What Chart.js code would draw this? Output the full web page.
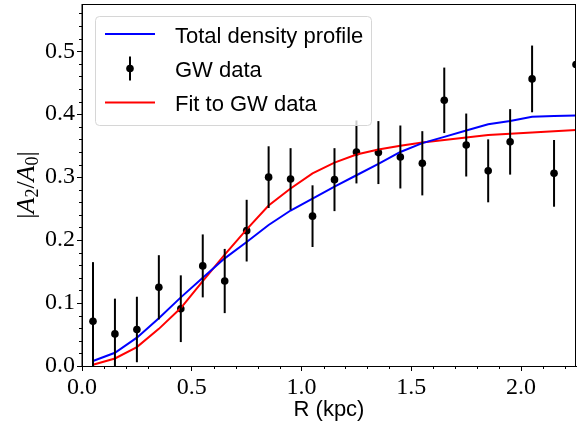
<!DOCTYPE html>
<html>
<head>
<meta charset="utf-8">
<script src="https://cdn.jsdelivr.net/npm/chart.js@4.4.1/dist/chart.umd.min.js"></script>
<style>
    html, body { margin: 0; padding: 0; background: #ffffff; }
    #wrap { width: 580px; height: 425px; }
</style>
</head>
<body>
<div id="wrap"><canvas id="canvasA2" width="580" height="425"></canvas></div>
<script>
// radius of each bin (kpc)
let radius = [0.05, 0.15, 0.25, 0.35, 0.45, 0.55, 0.65, 0.75, 0.85, 0.95, 1.05, 1.15,
              1.25, 1.35, 1.45, 1.55, 1.65, 1.75, 1.85, 1.95, 2.05, 2.15, 2.25];

let gwData = [0.071, 0.051, 0.058, 0.125, 0.091, 0.159, 0.135, 0.215, 0.300, 0.297, 0.238, 0.296,
              0.340, 0.339, 0.332, 0.322, 0.422, 0.351, 0.310, 0.356, 0.456, 0.306, 0.479];
let gwError = [0.094, 0.056, 0.052, 0.051, 0.053, 0.050, 0.051, 0.049, 0.049, 0.049, 0.049, 0.050,
               0.050, 0.050, 0.050, 0.051, 0.052, 0.050, 0.050, 0.052, 0.053, 0.053, 0.053];

let totalProfile = [0.008, 0.021, 0.045, 0.076, 0.109, 0.140, 0.171, 0.197, 0.224, 0.247, 0.266, 0.285,
                    0.303, 0.321, 0.340, 0.354, 0.364, 0.374, 0.384, 0.389, 0.396, 0.397, 0.398];
let gwFit = [0.002, 0.012, 0.030, 0.059, 0.092, 0.135, 0.177, 0.217, 0.255, 0.282, 0.306, 0.323,
             0.336, 0.344, 0.350, 0.355, 0.359, 0.363, 0.367, 0.369, 0.371, 0.373, 0.375];

let xTicks = [0.0, 0.5, 1.0, 1.5, 2.0];
let yTicks = [0.0, 0.1, 0.2, 0.3, 0.4, 0.5];

function points(values) {
    return radius.map((r, i) => ({ x: r, y: values[i] }));
}

function noPadding(s) {
    s.paddingTop = 0;
    s.paddingBottom = 0;
    s.paddingLeft = 0;
    s.paddingRight = 0;
}

// minor ticks, error bars, frame
let extras = {
    id: 'extras',
    afterDatasetsDraw(chart) {
        let ctx = chart.ctx;
        let area = chart.chartArea;
        let xs = chart.scales.x;
        let ys = chart.scales.y;

        ctx.save();
        ctx.beginPath();
        ctx.rect(area.left, area.top, area.right - area.left, area.bottom - area.top);
        ctx.clip();
        ctx.strokeStyle = '#000000';
        ctx.lineWidth = 2;
        for (let i = 0; i < radius.length; i++) {
            let px = xs.getPixelForValue(radius[i]);
            ctx.beginPath();
            ctx.moveTo(px, ys.getPixelForValue(gwData[i] - gwError[i]));
            ctx.lineTo(px, ys.getPixelForValue(gwData[i] + gwError[i]));
            ctx.stroke();
        }
        ctx.restore();
    },
    afterDraw(chart) {
        let ctx = chart.ctx;
        let area = chart.chartArea;
        let xs = chart.scales.x;
        let ys = chart.scales.y;

        ctx.save();
        ctx.strokeStyle = '#000000';
        ctx.lineWidth = 1;
        ctx.strokeRect(area.left, area.top + 0.5, area.right - area.left - 0.5, area.bottom - area.top);

        // minor ticks
        ctx.beginPath();
        for (let k = 1; k <= 22; k++) {
            if (k % 5 == 0) continue;
            let px = Math.round(xs.getPixelForValue(k / 10)) + 0.5;
            ctx.moveTo(px, area.bottom);
            ctx.lineTo(px, area.bottom + 3);
        }
        for (let k = 1; k <= 28; k++) {
            if (k % 5 == 0) continue;
            let py = Math.round(ys.getPixelForValue(k / 50)) + 0.5;
            ctx.moveTo(area.left, py);
            ctx.lineTo(area.left - 3, py);
        }
        ctx.stroke();

        // y axis label |A2/A0|
        ctx.translate(34, (area.top + area.bottom) / 2);
        ctx.rotate(-Math.PI / 2);
        let parts = [
            ['|', '26px "Liberation Serif"', 0],
            ['A', 'italic 26px "Liberation Serif"', 0],
            ['2', '18px "Liberation Serif"', 4],
            ['/', '26px "Liberation Serif"', 0],
            ['A', 'italic 26px "Liberation Serif"', 0],
            ['0', '18px "Liberation Serif"', 4],
            ['|', '26px "Liberation Serif"', 0]
        ];
        let total = 0;
        parts.forEach(p => { ctx.font = p[1]; total += ctx.measureText(p[0]).width; });
        let cx = -total / 2;
        ctx.fillStyle = '#000000';
        ctx.textBaseline = 'alphabetic';
        parts.forEach(p => {
            ctx.font = p[1];
            ctx.fillText(p[0], cx, p[2]);
            cx += ctx.measureText(p[0]).width;
        });
        ctx.restore();

        // legend
        ctx.save();
        ctx.beginPath();
        ctx.roundRect(95.5, 16.5, 276, 109, 4);
        ctx.fillStyle = 'rgba(255,255,255,0.8)';
        ctx.fill();
        ctx.strokeStyle = '#d6d6d6';
        ctx.lineWidth = 1;
        ctx.stroke();

        let rows = [
            { ds: chart.data.datasets[0], y: 34, kind: 'line' },
            { ds: chart.data.datasets[2], y: 68.5, kind: 'point' },
            { ds: chart.data.datasets[1], y: 102.5, kind: 'line' }
        ];
        ctx.font = '22px "Liberation Sans"';
        ctx.textBaseline = 'alphabetic';
        rows.forEach(row => {
            if (row.kind == 'line') {
                ctx.strokeStyle = row.ds.borderColor;
                ctx.lineWidth = 2;
                ctx.beginPath();
                ctx.moveTo(105, row.y);
                ctx.lineTo(155, row.y);
                ctx.stroke();
            } else {
                ctx.strokeStyle = '#000000';
                ctx.lineWidth = 2;
                ctx.beginPath();
                ctx.moveTo(130, row.y - 12);
                ctx.lineTo(130, row.y + 12);
                ctx.stroke();
                ctx.fillStyle = '#000000';
                ctx.beginPath();
                ctx.arc(130, row.y, 3.8, 0, Math.PI * 2);
                ctx.fill();
            }
            ctx.fillStyle = '#000000';
            ctx.fillText(row.ds.label, 175, row.y + 8.5);
        });
        ctx.restore();
    }
};

let canvasA2 = document.getElementById('canvasA2').getContext('2d');
let chart = new Chart(canvasA2, {
    type: 'scatter',
    data: {
        datasets: [
            {
                label: 'Total density profile',
                data: points(totalProfile),
                showLine: true,
                borderColor: '#0000ff',
                backgroundColor: '#0000ff',
                borderWidth: 2,
                pointRadius: 0
            },
            {
                label: 'Fit to GW data',
                data: points(gwFit),
                showLine: true,
                borderColor: '#ff0000',
                backgroundColor: '#ff0000',
                borderWidth: 2,
                pointRadius: 0
            },
            {
                label: 'GW data',
                data: points(gwData),
                showLine: false,
                backgroundColor: '#000000',
                borderColor: '#000000',
                borderWidth: 0,
                pointRadius: 3.8
            }
        ]
    },
    options: {
        responsive: false,
        animation: false,
        devicePixelRatio: 1,
        layout: { padding: { left: 0, right: 2, top: 4, bottom: 0 } },
        plugins: {
            legend: { display: false },
            tooltip: { enabled: false }
        },
        scales: {
            x: {
                type: 'linear',
                min: 0,
                max: 2.25,
                afterBuildTicks: s => { s.ticks = xTicks.map(v => ({ value: v })); },
                afterFit: s => { s.height = 59; noPadding(s); },
                ticks: {
                    color: '#000000',
                    font: { family: 'Liberation Serif', size: 24 },
                    padding: 2,
                    maxRotation: 0,
                    autoSkip: false,
                    callback: v => v.toFixed(1)
                },
                grid: { drawOnChartArea: false, tickLength: 5, tickColor: '#000000', tickWidth: 1 },
                border: { color: '#000000', width: 1 },
                title: {
                    display: true,
                    text: 'R (kpc)',
                    color: '#000000',
                    font: { family: 'Liberation Sans', size: 22 },
                    padding: { top: 0, bottom: 2 }
                }
            },
            y: {
                type: 'linear',
                min: 0,
                max: 0.575,
                afterBuildTicks: s => { s.ticks = yTicks.map(v => ({ value: v })); },
                afterFit: s => { s.width = 82; noPadding(s); },
                ticks: {
                    color: '#000000',
                    font: { family: 'Liberation Serif', size: 24 },
                    padding: 2,
                    autoSkip: false,
                    callback: v => v.toFixed(1)
                },
                grid: { drawOnChartArea: false, tickLength: 5, tickColor: '#000000', tickWidth: 1 },
                border: { color: '#000000', width: 1 }
            }
        }
    },
    plugins: [extras]
});
</script>
</body>
</html>
